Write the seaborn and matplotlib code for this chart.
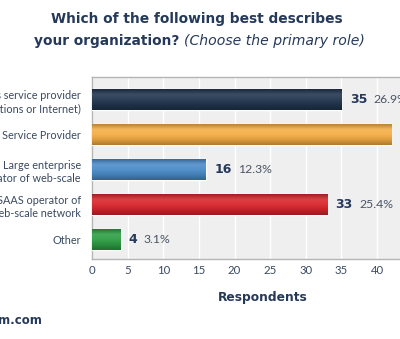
import matplotlib
matplotlib.use("Agg")
import matplotlib.pyplot as plt
import seaborn as sns
import pandas as pd
import numpy as np
from matplotlib.colors import LinearSegmentedColormap, to_rgb

categories = ["Communications service provider\n(Telecommunications or Internet)",
              "Cloud Service Provider",
              "Large enterprise\noperator of web-scale",
              "SAAS operator of\nweb-scale network",
              "Other"]
respondents = [35, 42, 16, 33, 4]
percents = ["26.9%", "32.3%", "12.3%", "25.4%", "3.1%"]
colors = ["#22364f", "#f5ae45", "#4b8cc9", "#d8262c", "#2e9e45"]
xticks = [0, 5, 10, 15, 20, 25, 30, 35, 40, 45]

navy = "#25395a"
sns.set_theme(style="white")
plt.rcParams['font.family'] = ['Lato', 'DejaVu Sans']

W, H = 400, 339
fig = plt.figure(figsize=(4, 3.39), dpi=100)
fig.patch.set_facecolor("white")
ax = fig.add_axes([92 / W, 80 / H, 342 / W, 182 / H])
ax.set_facecolor("#efefef")

df = pd.DataFrame({"cat": categories, "val": respondents})
sns.barplot(data=df, x="val", y="cat", hue="cat", palette=colors, orient="h",
            width=0.6, legend=False, ax=ax, zorder=3, saturation=1)

ax.set_xlim(0, 48)
ax.set_ylim(4.55, -0.65)

# cylindrical gradient shading on each bar
def shade(c, f):
    r = np.array(to_rgb(c))
    if f >= 0:
        return tuple(r + (1 - r) * f)
    return tuple(r * (1 + f))

for patch, c in zip(ax.patches, colors):
    x0, y0 = patch.get_x(), patch.get_y()
    w, h = patch.get_width(), patch.get_height()
    cmap = LinearSegmentedColormap.from_list(
        "g", [shade(c, -0.25), shade(c, 0.12), shade(c, 0.05), shade(c, -0.1), shade(c, -0.3)])
    grad = np.linspace(0, 1, 64).reshape(-1, 1)
    im = ax.imshow(grad, cmap=cmap, aspect="auto", extent=(x0, x0 + w, y0 + h, y0),
                   zorder=4, interpolation="bicubic")
    im.set_clip_path(patch)
ax.set_xlim(0, 48)
ax.set_ylim(4.55, -0.65)

ax.set_xticks(xticks)
ax.set_xticklabels([str(t) for t in xticks], fontsize=8.2, color="#3a4a60")
ax.tick_params(axis="x", length=0, pad=4)
ax.tick_params(axis="y", length=0, pad=8)
for lab in ax.get_yticklabels():
    lab.set_fontsize(7.8)
    lab.set_color("#3a4a60")
    lab.set_horizontalalignment("right")
    lab.set_linespacing(1.25)
ax.grid(axis="x", color="white", linewidth=1.0, zorder=0)
ax.grid(axis="y", visible=False)
for s in ax.spines.values():
    s.set_color("#b5b5b5")
    s.set_linewidth(1.0)
ax.set_ylabel("")
ax.set_xlabel("Respondents", fontsize=8.8, fontweight="bold", color=navy, labelpad=11,
              family=["DejaVu Sans"])

for i, (v, p) in enumerate(zip(respondents, percents)):
    t = ax.annotate(str(v), xy=(v, i), xytext=(6, 0), textcoords="offset points",
                    va="center", ha="left", fontsize=9, fontweight="bold", color=navy,
                    annotation_clip=False, family=["DejaVu Sans"])
    ax.annotate(p, xy=(1, 0.5), xycoords=t, xytext=(4.5, 0), textcoords="offset points",
                va="center", ha="left", fontsize=8.8, color="#4a5566", annotation_clip=False)

# Title
fig.text(0.4925, 1 - 19 / H, "Which of the following best describes", ha="center", va="center",
         fontsize=9.9, fontweight="bold", color=navy, family=["DejaVu Sans"])
ta = fig.text(0, 1 - 41 / H, "your organization? ", ha="left", va="center",
              fontsize=9.9, fontweight="bold", color=navy, family=["DejaVu Sans"])
tb = ax.annotate("(Choose the primary role)", xy=(1, 0.5), xycoords=ta, xytext=(0, 0),
                 textcoords="offset points", va="center", ha="left",
                 fontsize=10.1, fontstyle="italic", color=navy, annotation_clip=False,
                 family=["DejaVu Sans"])
fig.canvas.draw()
r = fig.canvas.get_renderer()
wa = ta.get_window_extent(r).width
wb = tb.get_window_extent(r).width
total = wa + wb
x0 = (199 - total / 2) / W
ta.set_x(x0)

fig.text(-2 / W, 1 - 321 / H, "m.com", ha="left", va="center", fontsize=8.5,
         fontweight="bold", color=navy, family=["DejaVu Sans"])

fig.savefig("out.png", dpi=100)
